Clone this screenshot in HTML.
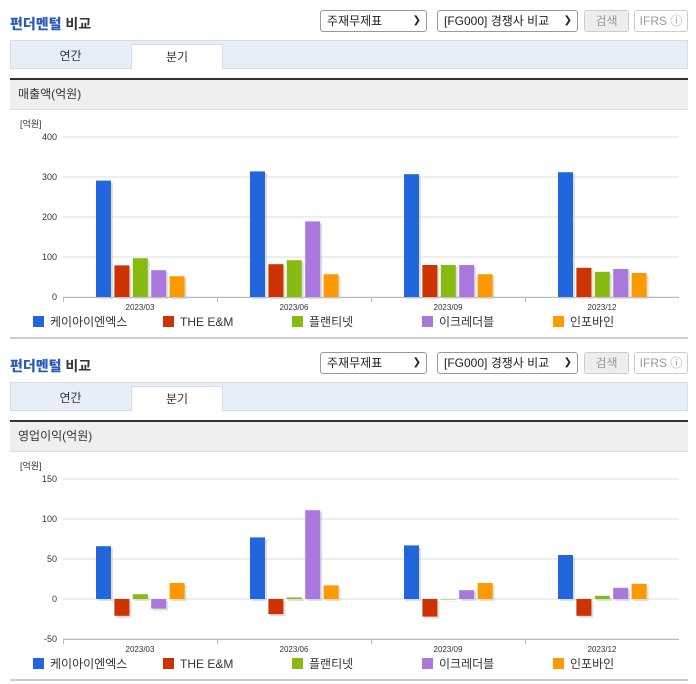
<!DOCTYPE html>
<html><head><meta charset="utf-8"><style>
*{box-sizing:border-box;margin:0;padding:0}
body{width:696px;height:684px;background:#fff;font-family:"Liberation Sans","Noto Sans CJK KR",sans-serif;position:relative;overflow:hidden;color:#333}
.abs{position:absolute}
.title{font-size:14px;font-weight:bold;color:#333}
.title b{color:#2a5bb5}
.sel{border:1px solid #999;border-radius:3px;height:22px;font-size:12px;line-height:20px;padding-left:6px;background:#fff;color:#222}
.sel span{position:absolute;right:5px;top:0;font-size:10px}
.btn{border:1px solid #ccc;border-radius:3px;height:22px;font-size:12px;line-height:20px;text-align:center;color:#999}
.tabbar{background:#e8eef7;border:1px solid #d5dde8;height:29px}
.tab{font-size:12px;text-align:center;line-height:24px}
.hdr{background:#efefef;border-top:2px solid #333;border-bottom:1px solid #ddd;font-size:12px;line-height:28px;padding-left:8px}
</style></head><body>
<div id="root"></div>
<script>
const categories=["2023/03","2023/06","2023/09","2023/12"];
const seriesNames=["케이아이엔엑스","THE E&M","플랜티넷","이크레더블","인포바인"];
const colors=["#2266dd","#cc3300","#88bb11","#aa77dd","#ff9900"];
const salesA=[291,314,307,312];
const salesB=[79,82,80,73];
const salesC=[97,92,80,63];
const salesD=[67,189,80,70];
const salesE=[52,57,57,60];
const opA=[66,77,67,55];
const opB=[-21,-19,-22,-21];
const opC=[6,2,0,4];
const opD=[-12,111,11,14];
const opE=[20,17,20,19];
const salesTicks=[0,100,200,300,400];
const opTicks=[-50,0,50,100,150];

const root=document.getElementById('root');
function panel(off,hdrText,series,ticks,min,max,idx){
  const wrap=document.createElement('div');
  
  
  wrap.innerHTML=`
  <div class="abs title" style="left:10px;top:${off+14}px"><b>펀더멘털</b> 비교</div>
  <div class="abs sel" style="left:320px;top:${off+10}px;width:107px">주재무제표<span>&#10095;</span></div>
  <div class="abs sel" style="left:437px;top:${off+10}px;width:141px">[FG000] 경쟁사 비교<span>&#10095;</span></div>
  <div class="abs btn" style="left:584px;top:${off+10}px;width:45px;background:#eee">검색</div>
  <div class="abs btn" style="left:634px;top:${off+10}px;width:54px">IFRS ⓘ</div>
  <div class="abs tabbar" style="left:10px;top:${off+40}px;width:678px"></div>
  <div class="abs tab" style="left:10px;top:${off+44}px;width:121px">연간</div>
  <div class="abs tab" style="left:131px;top:${off+44}px;width:92px;height:25px;background:#fff;border:1px solid #d5dde8;border-bottom:none">분기</div>
  <div class="abs hdr" style="left:10px;top:${off+78}px;width:678px;height:32px">${hdrText}</div>
  <div class="abs" style="left:10px;top:${off+337}px;width:678px;height:2px;background:#ccc"></div>`;
  root.appendChild(wrap);
  const NS='http://www.w3.org/2000/svg';
  const svg=document.createElementNS(NS,'svg');
  svg.setAttribute('width','696');svg.setAttribute('height','230');
  svg.style.position='absolute';svg.style.left='0';svg.style.top=(off+112)+'px';
  
  
  wrap.appendChild(svg);
  const L=63,R=679,T=25,B=185;
  const y=v=>B-(v-min)/(max-min)*(B-T);
  const gw=(R-L)/categories.length;
  function el(tag,attrs,text){const e=document.createElementNS(NS,tag);for(const k in attrs)e.setAttribute(k,attrs[k]);if(text!==undefined)e.textContent=text;svg.appendChild(e);return e;}
  const u=el('text',{x:20,y:15,'font-size':9,fill:'#333'},'[억원]');
  
  
  ticks.forEach(t=>{
    const g=el('line',{x1:L,x2:R,y1:y(t),y2:y(t),stroke:'#ddd','stroke-width':1});
    
    
    const tl=el('text',{x:57,y:y(t)+3,'font-size':9,fill:'#333','text-anchor':'end'},t);
    
    
  });
  const ax=el('line',{x1:L,x2:R,y1:B+.5,y2:B+.5,stroke:'#bbb'});
  
  
  categories.forEach((c,i)=>{
    const tk=el('line',{x1:L+gw*i+.5,x2:L+gw*i+.5,y1:B,y2:B+5,stroke:'#bbb'});
    
    
    const xl=el('text',{x:L+gw*i+gw/2,y:B+13,'font-size':8,fill:'#333','text-anchor':'middle'},c);
    
    
    series.forEach((s,j)=>{
      const x=L+gw*i+33+j*18.4;
      const v=s[i];const y0=y(0),y1=y(v);
      const top=Math.min(y0,y1),h=Math.max(Math.abs(y1-y0),0.5);
      const sh=el('rect',{x:x+2,y:top+2,width:15,height:h,fill:'#ccc',opacity:.6});
      
      
      const r=el('rect',{x:x,y:top,width:15,height:h,fill:colors[j]});
      
      
    });
  });
  const lx=[33,163,292,422,553];
  seriesNames.forEach((n,j)=>{
    const r=el('rect',{x:lx[j],y:B+19,width:11,height:11,fill:colors[j]});
    
    
    const t=el('text',{x:lx[j]+17,y:B+29,'font-size':12,fill:'#333'},n);
    
    
  });
}
panel(0,'매출액(억원)',[salesA,salesB,salesC,salesD,salesE],salesTicks,0,400,1);
panel(342,'영업이익(억원)',[opA,opB,opC,opD,opE],opTicks,-50,150,2);
</script>
</body></html>
